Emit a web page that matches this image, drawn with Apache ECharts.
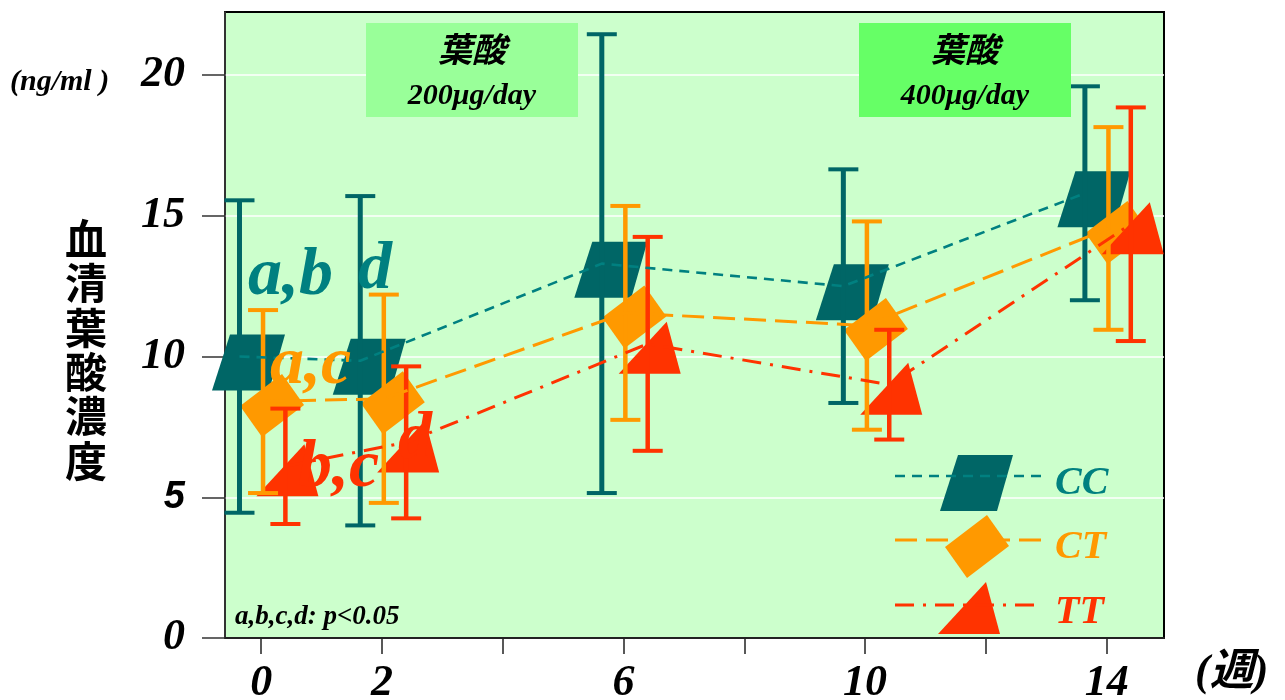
<!DOCTYPE html>
<html>
<head>
<meta charset="utf-8">
<script src="https://cdn.jsdelivr.net/npm/echarts@6/dist/echarts.min.js"></script>
<style>
  html, body { margin: 0; padding: 0; background: #ffffff; }
  #chart { width: 1285px; height: 700px; }
</style>
</head>
<body>
<div id="chart"></div>
<script>
// Weeks of folic acid supplementation and serum folate (ng/ml), mean ± SD per genotype
const weeks = [0, 2, 6, 10, 14];
const weekTicks = [0, 2, 4, 6, 8, 10, 12, 14];
const weekLabels = [0, 2, 6, 10, 14];
const valueTicks = [0, 5, 10, 15, 20];

const ccMean = [10.0, 9.85, 13.3, 12.5, 15.8];
const ccSD   = [5.55, 5.85, 8.15, 4.15, 3.8];
const ctMean = [8.4, 8.5, 11.55, 11.1, 14.55];
const ctSD   = [3.25, 3.7, 3.8, 3.7, 3.6];
const ttMean = [6.1, 6.95, 10.45, 9.0, 14.7];
const ttSD   = [2.05, 2.7, 3.8, 1.95, 4.15];

const groupNames = ['CC', 'CT', 'TT'];

const SERIF = '"Times New Roman", "Liberation Serif", "Noto Sans CJK JP", serif';
const SANS = '"Liberation Sans", Arial, sans-serif';
const CJK = '"Noto Sans CJK JP", "Noto Sans CJK SC", sans-serif';

// marker outlines (local coordinates, used for both plot symbols and legend)
const shapes = {
  CC: [[18, 0], [73, 0], [57, 56], [0, 56]],   // parallelogram
  CT: [[0, 32], [42, 0], [64, 31], [22, 63]],  // tilted rectangle
  TT: [[0, 52], [48, 0], [62, 52]]             // triangle
};
function toPath(pts) {
  return 'path://' + pts.map((p, i) => (i ? 'L' : 'M') + p[0] + ',' + p[1]).join(' ') + ' Z';
}
function bboxSize(pts) {
  const xs = pts.map(p => p[0]), ys = pts.map(p => p[1]);
  return [Math.max(...xs) - Math.min(...xs), Math.max(...ys) - Math.min(...ys)];
}

const groups = [
  { name: 'CC', mean: ccMean, sd: ccSD, dodge: -0.36, marker: '#006666', line: '#008080',
    dash: [10, 7], lineWidth: 2.6, barWidth: 5, offset: [9, 6] },
  { name: 'CT', mean: ctMean, sd: ctSD, dodge: 0.03, marker: '#FF9900', line: '#FF9900',
    dash: [22, 9], lineWidth: 3, barWidth: 4.5, offset: [9, 4] },
  { name: 'TT', mean: ttMean, sd: ttSD, dodge: 0.40, marker: '#FF3300', line: '#FF3300',
    dash: [19, 9, 3, 9], lineWidth: 3, barWidth: 4.5, offset: [2, 4] }
];

const series = [];
groups.forEach(g => {
  const pts = weeks.map((w, i) => [w + g.dodge, g.mean[i]]);
  // markers
  series.push({
    type: 'scatter', name: g.name, z: 2,
    data: pts,
    symbol: toPath(shapes[g.name]),
    symbolSize: bboxSize(shapes[g.name]),
    symbolOffset: g.offset,
    itemStyle: { color: g.marker, opacity: 1 },
    silent: true
  });
  // error bars (mean ± SD)
  series.push({
    type: 'custom', name: g.name + ' sd', z: 3, clip: false, silent: true,
    data: weeks.map((w, i) => [w + g.dodge, g.mean[i] - g.sd[i], g.mean[i] + g.sd[i]]),
    renderItem: (params, api) => {
      const x = api.value(0);
      const top = api.coord([x, api.value(2)]);
      const bot = api.coord([x, api.value(1)]);
      const half = 15;
      const style = { stroke: g.marker, lineWidth: g.barWidth, lineCap: 'butt' };
      const capStyle = { stroke: g.marker, lineWidth: 4, lineCap: 'butt' };
      return {
        type: 'group',
        children: [
          { type: 'line', shape: { x1: top[0], y1: top[1], x2: bot[0], y2: bot[1] }, style },
          { type: 'line', shape: { x1: top[0] - half, y1: top[1], x2: top[0] + half, y2: top[1] }, style: capStyle },
          { type: 'line', shape: { x1: bot[0] - half, y1: bot[1], x2: bot[0] + half, y2: bot[1] }, style: capStyle }
        ]
      };
    }
  });
  // connecting line through the means
  series.push({
    type: 'line', name: g.name + ' line', z: 4, silent: true,
    data: pts, symbol: 'none',
    lineStyle: { color: g.line, width: g.lineWidth, type: g.dash }
  });
});

// text placed by its top edge
function txt(x, y, text, color, font, align) {
  return { type: 'text', z: 30, x, y,
    style: { text, fill: color, font, align: align || 'left', verticalAlign: 'top' } };
}

// legend drawn as graphics: dashed line over the marker, then the label
const legendRows = [
  { y: 476, cx: 976.5, cy: 483, top: 464, color: '#008080' },
  { y: 540, cx: 977, cy: 546.5, top: 528, color: '#FF9900' },
  { y: 605, cx: 969, cy: 608, top: 593, color: '#FF3300' }
];
const legendGraphics = [];
groups.forEach((g, i) => {
  const r = legendRows[i];
  const sz = bboxSize(shapes[g.name]);
  legendGraphics.push({
    type: 'polygon', z: 20,
    shape: { points: shapes[g.name].map(p => [p[0] + r.cx - sz[0] / 2, p[1] + r.cy - sz[1] / 2]) },
    style: { fill: g.marker }
  });
  legendGraphics.push({
    type: 'line', z: 21,
    shape: { x1: 895, y1: r.y, x2: 1041, y2: r.y },
    style: { stroke: g.line, lineWidth: g.lineWidth, lineDash: g.dash }
  });
  legendGraphics.push(txt(1055, r.top, groupNames[i], r.color, 'italic bold 40px ' + SERIF));
});

const annotations = [
  // dose boxes
  { type: 'rect', z: 15, shape: { x: 366, y: 23, width: 212, height: 94 }, style: { fill: '#99FF99' } },
  txt(472, 32, '葉酸', '#000', 'italic bold 34px ' + CJK, 'center'),
  txt(472, 81, '200μg/day', '#000', 'italic bold 30px ' + SERIF, 'center'),
  { type: 'rect', z: 15, shape: { x: 859, y: 23, width: 212, height: 94 }, style: { fill: '#66FF66' } },
  txt(965, 32, '葉酸', '#000', 'italic bold 34px ' + CJK, 'center'),
  txt(965, 81, '400μg/day', '#000', 'italic bold 30px ' + SERIF, 'center'),
  // significance letters
  txt(248, 242, 'a,b', '#008080', 'italic bold 68px ' + SERIF),
  txt(358, 236, 'd', '#008080', 'italic bold 68px ' + SERIF),
  txt(270, 331, 'a,c', '#FF9900', 'italic bold 68px ' + SERIF),
  txt(298, 434, 'b,c', '#FF3300', 'italic bold 68px ' + SERIF),
  txt(398, 406, 'd', '#FF3300', 'italic bold 68px ' + SERIF),
  txt(235, 604, 'a,b,c,d: p<0.05', '#000', 'italic bold 27px ' + SERIF),
  // axis titles
  txt(10, 67, '(ng/ml )', '#000', 'italic bold 30px ' + SERIF),
  txt(1195, 652, '(週)', '#000', 'italic bold 44px ' + SERIF),
  { type: 'text', z: 30, x: 86, y: 217,
    style: { text: '血\n清\n葉\n酸\n濃\n度', fill: '#000', font: 'bold 42px ' + CJK,
      align: 'center', verticalAlign: 'top', lineHeight: 44.3 } }
];

const chart = echarts.init(document.getElementById('chart'), null, { renderer: 'canvas' });
chart.setOption({
  animation: false,
  grid: { left: 225, top: 12, width: 939, height: 626, show: true,
    outerBoundsMode: 'none', containLabel: false,
    backgroundColor: '#CCFFCC', borderColor: '#000', borderWidth: 2 },
  xAxis: {
    type: 'value', min: -0.6, max: 14.95,
    axisLine: { onZero: false, lineStyle: { color: '#222', width: 2 } },
    axisTick: { show: true, customValues: weekTicks, length: 16, lineStyle: { color: '#222', width: 1.5 } },
    axisLabel: { customValues: weekLabels, margin: 24, color: '#000',
      fontFamily: SERIF, fontSize: 44, fontWeight: 'bold', fontStyle: 'italic' },
    splitLine: { show: false }
  },
  yAxis: {
    type: 'value', min: 0, max: 22.24,
    axisLine: { show: true, onZero: false, lineStyle: { color: '#444', width: 1.5 } },
    axisTick: { show: true, customValues: valueTicks, length: 23, lineStyle: { color: '#333', width: 1.5 } },
    axisLabel: { customValues: valueTicks, margin: 40, color: '#000',
      fontFamily: SERIF, fontSize: 44, fontWeight: 'bold', fontStyle: 'italic',
      formatter: v => v === 5 ? '{s|5}' : String(v),
      rich: { s: { fontFamily: SANS, fontSize: 38, fontWeight: 'bold', fontStyle: 'italic', color: '#000' } } },
    splitLine: { show: true, lineStyle: { color: '#ffffff', width: 1.5 } }
  },
  series,
  graphic: { elements: annotations.concat(legendGraphics) }
});
</script>
</body>
</html>
